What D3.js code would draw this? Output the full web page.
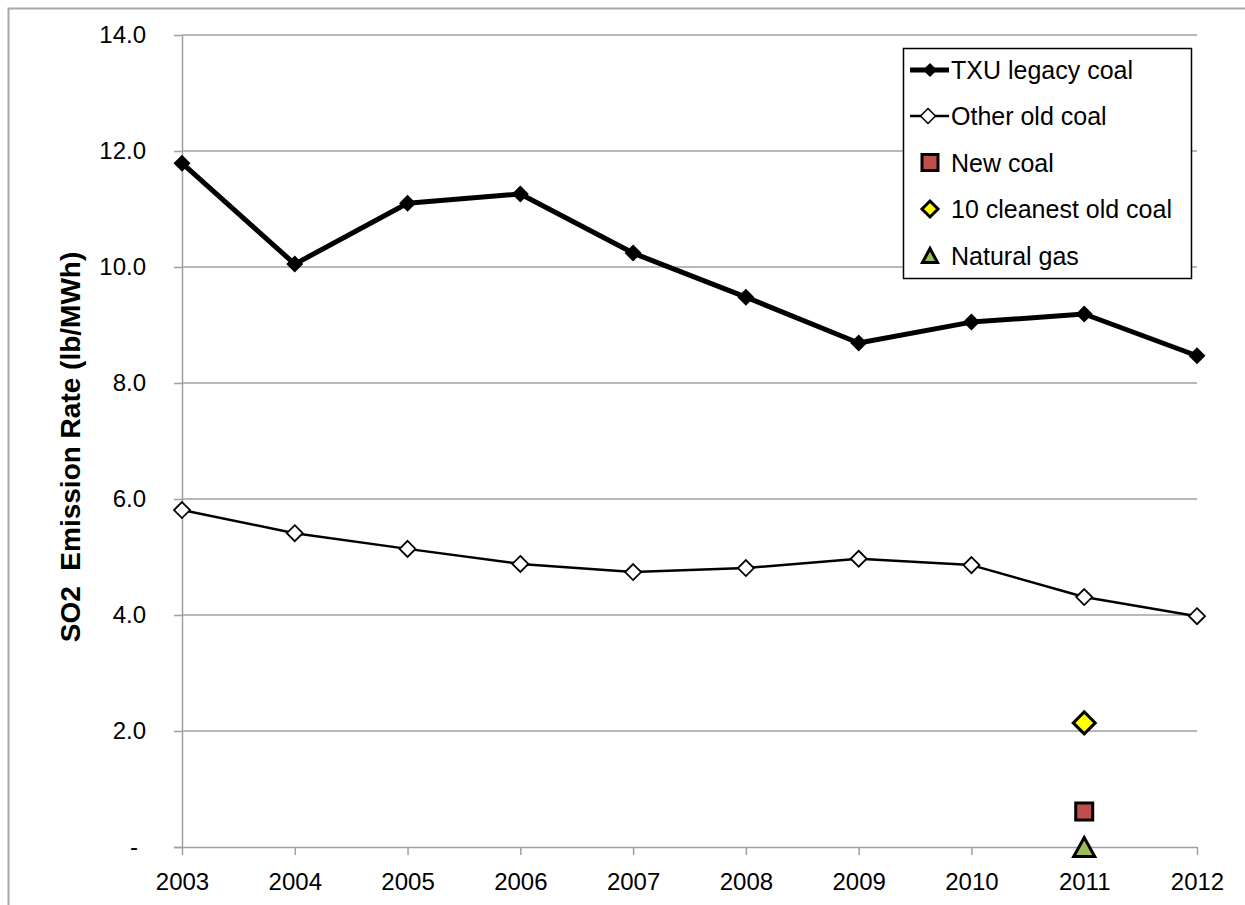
<!DOCTYPE html>
<html>
<head>
<meta charset="utf-8">
<script src="https://cdn.jsdelivr.net/npm/d3@7/dist/d3.min.js"></script>
<style>
  body { margin: 0; background: #ffffff; }
  text { font-family: "Liberation Sans", Arial, sans-serif; fill: #000; }
</style>
</head>
<body>
<svg id="chart" width="1245" height="905"></svg>
<script>
// SO2 emission rates (lb/MWh) by year
const years = [2003, 2004, 2005, 2006, 2007, 2008, 2009, 2010, 2011, 2012];
const txuLegacyCoal = [11.79, 10.05, 11.10, 11.26, 10.24, 9.48, 8.69, 9.05, 9.19, 8.47];
const otherOldCoal = [5.81, 5.41, 5.14, 4.88, 4.74, 4.81, 4.97, 4.86, 4.31, 3.98];
const newCoalYears = [2011];
const newCoalValues = [0.61];
const cleanestYears = [2011];
const cleanestValues = [2.14];
const naturalGasYears = [2011];
const naturalGasValues = [0.0];
const yTickValues = [0, 2, 4, 6, 8, 10, 12, 14];
const legendLabels = ["TXU legacy coal", "Other old coal", "New coal", "10 cleanest old coal", "Natural gas"];
const yAxisTitle = "SO2\u00a0 Emission Rate (lb/MWh)";

const svg = d3.select("#chart");
const gridColor = "#a0a0a0";

// Outer chart frame
svg.append("rect")
  .attr("x", 8.5).attr("y", 8.5)
  .attr("width", 1260).attr("height", 920)
  .attr("fill", "none").attr("stroke", "#a8a8a8").attr("stroke-width", 2);

const x = d3.scalePoint().domain(years).range([182, 1197]);
const y = d3.scaleLinear().domain([0, 14]).range([847, 35]);

// Horizontal gridlines
svg.append("g").selectAll("line")
  .data(yTickValues.filter(v => v > 0))
  .join("line")
  .attr("x1", 182).attr("x2", 1197)
  .attr("y1", d => y(d)).attr("y2", d => y(d))
  .attr("stroke", gridColor).attr("stroke-width", 1.5);

// Y axis
const yAxis = svg.append("g")
  .attr("transform", "translate(182,0)")
  .call(d3.axisLeft(y).tickValues(yTickValues).tickSize(8).tickSizeOuter(0).tickPadding(28)
    .tickFormat(d => d === 0 ? "-" : d.toFixed(1)));
yAxis.select(".domain").attr("stroke", gridColor).attr("stroke-width", 1.5);
yAxis.selectAll(".tick line").attr("stroke", gridColor).attr("stroke-width", 1.5);
yAxis.selectAll(".tick text")
  .style("font-size", "24px")
  .attr("dx", d => d === 0 ? -8 : 0);

// X axis
const xAxis = svg.append("g")
  .attr("transform", "translate(0,847)")
  .call(d3.axisBottom(x).tickSize(8).tickSizeOuter(0).tickPadding(18));
xAxis.select(".domain").attr("stroke", gridColor).attr("stroke-width", 1.5)
  .attr("d", "M174,0.5H1197");
xAxis.selectAll(".tick line").attr("stroke", gridColor).attr("stroke-width", 1.5);
xAxis.selectAll(".tick text").style("font-size", "24px");

// Y axis title
svg.append("text")
  .attr("transform", "translate(80,447) rotate(-90)")
  .attr("text-anchor", "middle")
  .style("font-size", "28px")
  .style("font-weight", "bold")
  .text(yAxisTitle);

// Marker path helpers
const diamond = r => `M0,${-r}L${r},0L0,${r}L${-r},0Z`;
const square = s => `M${-s / 2},${-s / 2}H${s / 2}V${s / 2}H${-s / 2}Z`;
const triangle = (w, h) => `M0,${-h / 2}L${w / 2},${h / 2}H${-w / 2}Z`;

const line = d3.line().x(d => x(d[0])).y(d => y(d[1]));

// Other old coal
const otherPts = years.map((yr, i) => [yr, otherOldCoal[i]]);
svg.append("path").datum(otherPts)
  .attr("d", line).attr("fill", "none")
  .attr("stroke", "#000").attr("stroke-width", 2.5).attr("stroke-linejoin", "round");
svg.append("g").selectAll("path").data(otherPts).join("path")
  .attr("transform", d => `translate(${x(d[0])},${y(d[1])})`)
  .attr("d", diamond(8))
  .attr("fill", "#fff").attr("stroke", "#000").attr("stroke-width", 1.8);

// TXU legacy coal
const txuPts = years.map((yr, i) => [yr, txuLegacyCoal[i]]);
svg.append("path").datum(txuPts)
  .attr("d", line).attr("fill", "none")
  .attr("stroke", "#000").attr("stroke-width", 5).attr("stroke-linejoin", "round");
svg.append("g").selectAll("path").data(txuPts).join("path")
  .attr("transform", d => `translate(${x(d[0])},${y(d[1])})`)
  .attr("d", diamond(8.5))
  .attr("fill", "#000");

// Single-year comparison points
svg.append("g").selectAll("path").data(cleanestYears.map((yr, i) => [yr, cleanestValues[i]])).join("path")
  .attr("transform", d => `translate(${x(d[0])},${y(d[1])})`)
  .attr("d", diamond(11))
  .attr("fill", "#ffff00").attr("stroke", "#000").attr("stroke-width", 3).attr("stroke-linejoin", "miter");
svg.append("g").selectAll("path").data(newCoalYears.map((yr, i) => [yr, newCoalValues[i]])).join("path")
  .attr("transform", d => `translate(${x(d[0])},${y(d[1])})`)
  .attr("d", square(17))
  .attr("fill", "#c0504d").attr("stroke", "#000").attr("stroke-width", 3);
svg.append("g").selectAll("path").data(naturalGasYears.map((yr, i) => [yr, naturalGasValues[i]])).join("path")
  .attr("transform", d => `translate(${x(d[0])},${y(d[1])})`)
  .attr("d", triangle(21, 19))
  .attr("fill", "#9bbb59").attr("stroke", "#000").attr("stroke-width", 3).attr("stroke-linejoin", "miter");

// Legend
const legend = svg.append("g");
legend.append("rect")
  .attr("x", 903.5).attr("y", 48.5).attr("width", 288).attr("height", 230)
  .attr("fill", "#fff").attr("stroke", "#000").attr("stroke-width", 1.5);
const rowY = [70, 116, 162.5, 209, 255.5];
const mx = 930;

legend.append("line").attr("x1", 910).attr("x2", 949).attr("y1", rowY[0]).attr("y2", rowY[0])
  .attr("stroke", "#000").attr("stroke-width", 5);
legend.append("path").attr("transform", `translate(${mx},${rowY[0]})`).attr("d", diamond(7)).attr("fill", "#000");

legend.append("line").attr("x1", 910).attr("x2", 949).attr("y1", rowY[1]).attr("y2", rowY[1])
  .attr("stroke", "#000").attr("stroke-width", 2.5);
legend.append("path").attr("transform", `translate(${mx - 2},${rowY[1]})`).attr("d", diamond(7.5))
  .attr("fill", "#fff").attr("stroke", "#000").attr("stroke-width", 1.5);

legend.append("path").attr("transform", `translate(${mx},${rowY[2]})`).attr("d", square(16))
  .attr("fill", "#c0504d").attr("stroke", "#000").attr("stroke-width", 3);
legend.append("path").attr("transform", `translate(${mx},${rowY[3]})`).attr("d", diamond(8))
  .attr("fill", "#ffff00").attr("stroke", "#000").attr("stroke-width", 3);
legend.append("path").attr("transform", `translate(${mx},${rowY[4]})`).attr("d", triangle(15, 14))
  .attr("fill", "#9bbb59").attr("stroke", "#000").attr("stroke-width", 3);

legend.selectAll("text").data(legendLabels).join("text")
  .attr("x", 951).attr("y", (d, i) => rowY[i]).attr("dy", "0.36em")
  .style("font-size", "25px")
  .text(d => d);
</script>
</body>
</html>
